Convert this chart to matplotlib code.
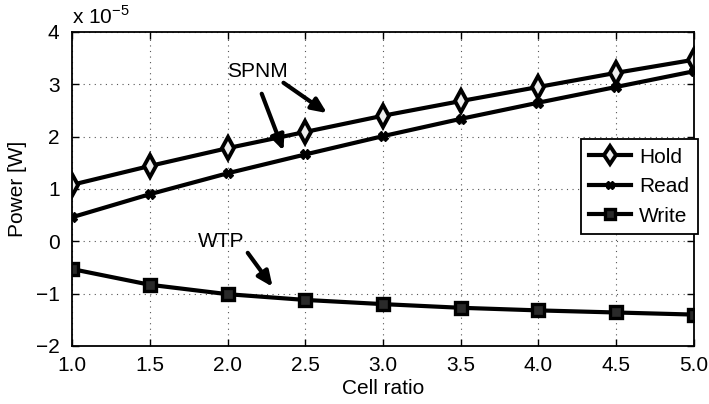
import matplotlib
matplotlib.use("Agg")
import matplotlib.pyplot as plt

plt.rcParams['font.family'] = ['Liberation Sans', 'DejaVu Sans']
plt.rcParams['mathtext.fontset'] = 'custom'
plt.rcParams['mathtext.rm'] = 'Liberation Sans'

cell_ratio = [1.0, 1.5, 2.0, 2.5, 3.0, 3.5, 4.0, 4.5, 5.0]
hold = [1.08, 1.44, 1.78, 2.09, 2.40, 2.68, 2.95, 3.22, 3.47]
read = [0.46, 0.90, 1.30, 1.66, 2.01, 2.34, 2.65, 2.95, 3.25]
write = [-0.53, -0.83, -1.01, -1.12, -1.20, -1.27, -1.32, -1.36, -1.40]
xticks = [1.0, 1.5, 2.0, 2.5, 3.0, 3.5, 4.0, 4.5, 5.0]
yticks = [-2, -1, 0, 1, 2, 3, 4]

fig = plt.figure(figsize=(7.09, 4.04), dpi=100)
ax = fig.add_axes([0.1016, 0.1436, 0.8772, 0.7772])

fs = 15
lw = 3.0
ax.plot(cell_ratio, hold, color='black', lw=lw, marker='d', ms=11,
        mfc='#eeeeee', mec='black', mew=2.8, label='Hold')
ax.plot(cell_ratio, read, color='black', lw=lw, marker='X', ms=7,
        mfc='black', mec='black', mew=1, label='Read')
ax.plot(cell_ratio, write, color='black', lw=lw, marker='s', ms=9,
        mfc='#2a2a2a', mec='black', mew=2.4, label='Write')

ax.set_xlim(1.0, 5.0)
ax.set_ylim(-2, 4)
ax.set_xticks(xticks)
ax.set_xticklabels([f"{v:.1f}" for v in xticks])
ax.set_yticks(yticks)
ax.set_yticklabels([str(v).replace('-', '\u2212') for v in yticks])
ax.tick_params(direction='in', top=True, right=True, labelsize=fs, length=5, width=1)
ax.tick_params(axis='x', pad=7)
ax.tick_params(axis='y', pad=9)
ax.grid(True, linestyle=(0, (1, 4)), color='#555555', lw=0.8)
for s in ax.spines.values():
    s.set_linewidth(1.3)

ax.set_xlabel('Cell ratio', fontsize=fs, labelpad=3)
ax.set_ylabel('Power [W]', fontsize=fs, labelpad=6)

fig.text(0.1016, 0.958, r'x 10$^{-5}$', fontsize=fs, ha='left', va='center')

arrowprops = dict(arrowstyle='-|>,head_length=0.9,head_width=0.4', color='black', lw=3,
                  shrinkA=0, shrinkB=0)
ax.text(2.19, 3.24, 'SPNM', fontsize=fs, ha='center', va='center')
ax.annotate('', xy=(2.64, 2.45), xytext=(2.36, 3.03), arrowprops=arrowprops)
ax.annotate('', xy=(2.36, 1.73), xytext=(2.22, 2.82), arrowprops=arrowprops)
ax.text(1.96, 0.0, 'WTP', fontsize=fs, ha='center', va='center')
ax.annotate('', xy=(2.29, -0.87), xytext=(2.13, -0.22), arrowprops=arrowprops)

leg = ax.legend(loc='upper right', bbox_to_anchor=(1.006, 0.658), fontsize=fs,
                frameon=True, fancybox=False, edgecolor='black', framealpha=1,
                handlelength=2.0, borderpad=0.4, labelspacing=0.5, handletextpad=0.4,
                borderaxespad=0, markerscale=0.85)
leg.get_frame().set_linewidth(1.3)

fig.savefig('out.png', dpi=100)
